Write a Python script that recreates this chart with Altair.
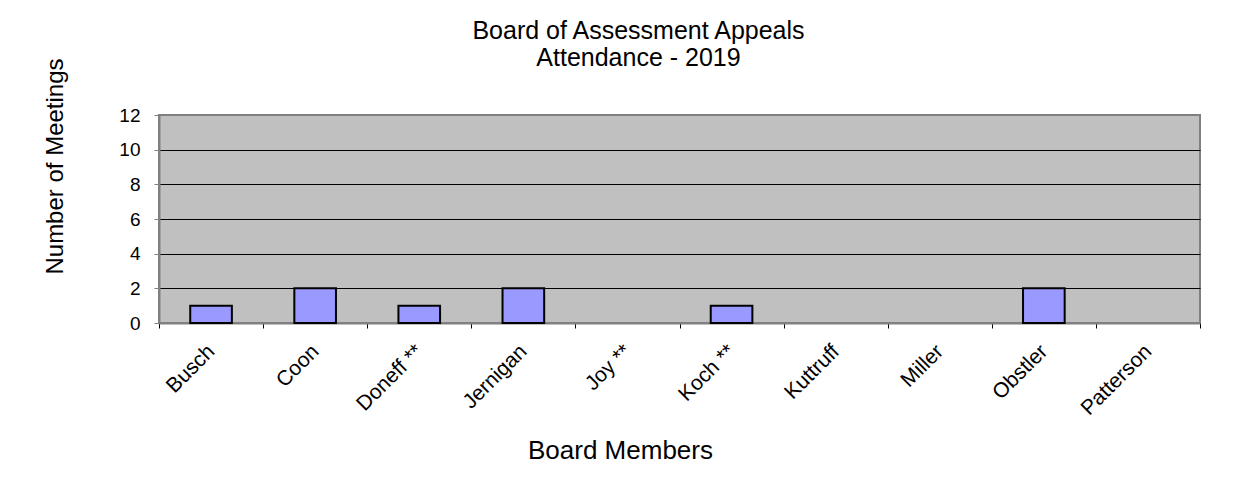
import altair as alt
import pandas as pd

members = ["Busch", "Coon", "Doneff **", "Jernigan", "Joy **", "Koch **",
           "Kuttruff", "Miller", "Obstler", "Patterson"]
meetings = [1, 2, 1, 2, 0, 1, 0, 0, 2, 0]
y_ticks = [0, 2, 4, 6, 8, 10, 12]

df = pd.DataFrame({"member": members, "meetings": meetings})

FONT = "Liberation Sans"

chart = alt.Chart(df).mark_bar(
    width={"band": 0.4},
    fill="#9999FF",
    stroke="black",
    strokeWidth=2,
).encode(
    x=alt.X(
        "member:N",
        sort=members,
        scale=alt.Scale(paddingInner=0, paddingOuter=0),
        axis=alt.Axis(
            title="Board Members",
            titleFont=FONT,
            titleFontSize=26,
            titleFontWeight="normal",
            titleColor="black",
            titleX=461,
            titleY=135,
            titleAlign="center",
            titleBaseline="alphabetic",
            labelAngle=-45,
            labelAlign="right",
            labelBaseline="middle",
            labelFont=FONT,
            labelFontSize=21,
            labelColor="black",
            labelPadding=20,
            tickBand="extent",
            tickSize=5,
            tickColor="black",
            domainColor="#808080",
            domainWidth=2,
            grid=False,
        ),
    ),
    y=alt.Y(
        "meetings:Q",
        scale=alt.Scale(domain=[0, 12], nice=False),
        axis=alt.Axis(
            title="Number of Meetings",
            titleFont=FONT,
            titleFontSize=24,
            titleFontWeight="normal",
            titleColor="black",
            titleX=-97,
            titleY=51,
            titleAlign="center",
            titleBaseline="alphabetic",
            titleAngle=-90,
            values=y_ticks,
            labelFont=FONT,
            labelFontSize=19,
            labelColor="black",
            labelPadding=14,
            tickSize=5,
            tickColor="#808080",
            domainColor="#808080",
            domainWidth=2,
            grid=True,
            gridColor={"condition": {"test": "datum.value === 12 || datum.value === 0",
                                     "value": "#808080"},
                       "value": "#000000"},
            gridWidth=1,
        ),
    ),
    strokeOpacity=alt.condition(alt.datum.meetings > 0, alt.value(1), alt.value(0)),
).properties(
    width=1041,
    height=208,
    title=alt.TitleParams(
        text=["Board of Assessment Appeals", "Attendance - 2019"],
        font=FONT,
        fontSize=25,
        fontWeight="normal",
        color="black",
        anchor="middle",
        frame="group",
        dx=-41,
        offset=-13,
        lineHeight=27,
    ),
    autosize=alt.AutoSizeParams(type="none"),
    padding={"left": 151, "top": 107, "right": 25, "bottom": 160},
    background="white",
).configure_view(
    fill="#C0C0C0",
    stroke="#808080",
    strokeWidth=2,
)

chart.save("out.html", embed_options={"renderer": "svg", "actions": False})
